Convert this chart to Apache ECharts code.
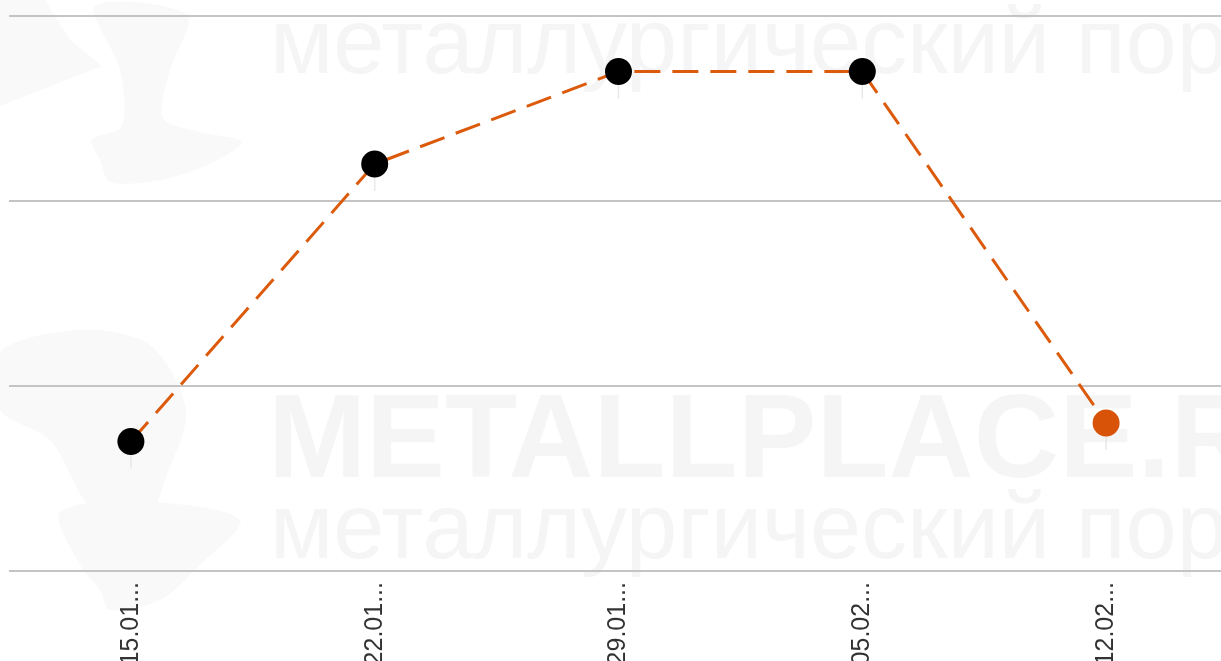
<!DOCTYPE html>
<html>
<head>
<meta charset="utf-8">
<script src="https://cdn.jsdelivr.net/npm/echarts@6/dist/echarts.min.js"></script>
<style>
html, body { margin: 0; padding: 0; background: #fff; overflow: hidden; }
#chart { width: 1240px; height: 661px; }
</style>
</head>
<body>
<div id="chart"></div>
<script>
// даты (недели) и значения
var dates = ['15.01.2024', '22.01.2024', '29.01.2024', '05.02.2024', '12.02.2024']
var prices = [107, 122, 127, 127, 108]
var yTicks = [100, 110, 120, 130]

var orange = '#dc5a0c'
var wm = '#f5f5f5'

// последняя точка оранжевая, остальные черные
var points = prices.map(function (v, i) {
  return {
    value: v,
    itemStyle: { color: i === prices.length - 1 ? '#d85308' : '#000' }
  }
})

// водяной знак: логотип (ковш) + подписи
function wmText (top, text, font, left) {
  return { type: 'text', left: left, top: top, z: -10, silent: true, style: { text: text, fill: wm, font: font } }
}
function wmShape (pts, smooth) {
  return { type: 'polygon', z: -11, silent: true, shape: { points: pts, smooth: smooth }, style: { fill: '#f9f9f9' } }
}

var chart = echarts.init(document.getElementById('chart'))
chart.setOption({
  animation: false,
  grid: { left: 9, top: 16, width: 1219, height: 555, outerBoundsMode: 'none', containLabel: false },
  graphic: [
    wmShape([[0, 0], [45, 0], [70, 40], [102, 66], [0, 106]], 0),
    wmShape([[95, 6], [187, 15], [170, 70], [163, 118], [200, 132], [242, 142], [205, 166], [160, 180], [110, 182], [100, 160], [92, 140], [122, 126], [120, 70]], 0.3),
    wmShape([[0, 352], [80, 330], [150, 345], [186, 410], [165, 480], [150, 512], [95, 512], [50, 440], [0, 410]], 0.3),
    wmShape([[60, 512], [150, 502], [240, 520], [200, 565], [160, 600], [110, 610], [100, 590], [80, 565]], 0.3),
    wmText(2, 'металлургический портал', '92px "Liberation Sans", Arial, sans-serif', 270),
    wmText(385, 'METALLPLACE.RU', 'bold 118px "Liberation Sans", Arial, sans-serif', 268),
    wmText(487, 'металлургический портал', '92px "Liberation Sans", Arial, sans-serif', 270)
  ],
  xAxis: {
    type: 'category',
    data: dates,
    axisLine: { show: false },
    axisTick: { show: false },
    axisLabel: {
      rotate: 90,
      margin: 11,
      fontSize: 25,
      color: '#333',
      fontFamily: '"Liberation Sans", Arial, sans-serif',
      formatter: function (v) { return v.slice(0, 5) + '...' }
    }
  },
  yAxis: {
    type: 'value',
    min: yTicks[0],
    max: yTicks[yTicks.length - 1],
    interval: 10,
    axisLabel: { show: false },
    axisLine: { show: false },
    axisTick: { show: false },
    splitLine: { lineStyle: { color: '#c4c4c4', width: 2 } }
  },
  series: [
    {
      // тонкие "ножки" под точками
      type: 'scatter',
      data: prices,
      symbol: 'rect',
      symbolSize: [1.5, 14],
      symbolOffset: [0, 20],
      itemStyle: { color: '#e2e2e2' },
      silent: true,
      z: 1
    },
    {
      type: 'line',
      data: points,
      symbol: 'circle',
      symbolSize: 27,
      lineStyle: { color: orange, width: 3, type: [26, 12] },
      z: 3
    }
  ]
})
</script>
</body>
</html>
